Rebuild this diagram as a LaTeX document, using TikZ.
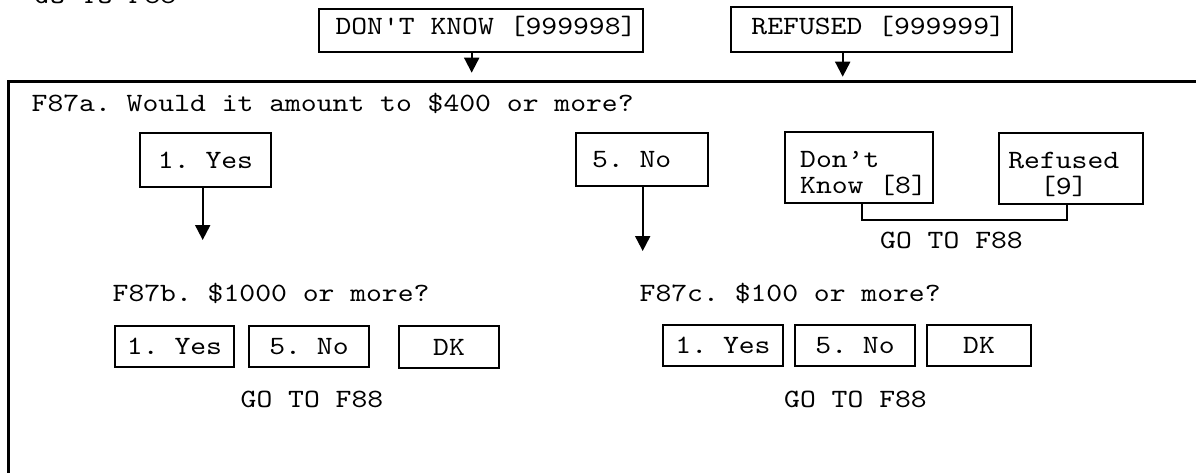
\documentclass[tikz,border=0pt]{standalone}
\usepackage{fontspec}
\setmonofont{lmmono10-regular.otf}[FakeStretch=1.1429]
\usetikzlibrary{arrows.meta}
\newcommand{\mytt}{\ttfamily\fontsize{26.4pt}{25.5pt}\selectfont}
\tikzset{
  txt/.style={inner sep=0pt, font=\mytt, anchor=base west},
  bx/.style={draw, line width=2pt, inner ysep=0pt, inner xsep=0pt, font=\mytt, align=center, text height=17pt, text depth=0pt},
  conn/.style={line width=2pt},
  arr/.style={line width=2pt, -{Triangle[length=15pt,width=15pt]}},
  frameline/.style={line width=2.6pt, line join=miter}
}
\begin{document}
\begin{tikzpicture}[x=1pt,y=-1pt]
\useasboundingbox (0,0) rectangle (1196,473);
% outer frame
\draw[frameline] (8.7,480) -- (8.7,81.7) -- (1210,81.7);
% top
\node[txt] (g0) at (33.5,4) {GO TO F88};
\node[bx, minimum width=324.3pt, minimum height=42.4pt, text height=16pt, text depth=7pt] (dk) at (481.15,30.5) {\hspace*{9.7pt}DON'T KNOW [999998]};
\node[bx, minimum width=281pt, minimum height=45pt, text height=16pt, text depth=5.6pt] (rf) at (871.2,29.8) {\hspace*{14pt}REFUSED [999999]};
\coordinate (t0) at (471.7,72.7);
\coordinate (t1) at (842.7,76.7);
\draw[arr] (dk.south -| t0) -- (t0);
\draw[arr] (rf.south -| t1) -- (t1);
% F87a
\node[txt] (q1) at (31.5,111.7) {F87a. Would it amount to \$400 or more?};
\node[bx, minimum width=131pt, minimum height=54pt, text height=16pt] (yes1) at (205.5,160.3) {1. Yes};
\node[bx, minimum width=132pt, minimum height=53pt, text height=17pt] (no1) at (642,159.5) {5. No\hspace*{20.8pt}};
\node[bx, align=left, minimum width=147.7pt, minimum height=71pt, text height=51pt, text depth=0pt] (dkn) at (858.85,167.8) {\hspace*{9.4pt}Don’t\\\hspace*{9.4pt}Know [8]};
\node[bx, align=left, minimum width=144.3pt, minimum height=70.7pt, text height=51pt, text depth=0pt] (rfn) at (1071.15,168.65) {Refused\hspace*{14.8pt}\\\phantom{xx}[9]};
\coordinate (t2) at (202.7,240);
\coordinate (t3) at (642.7,251);
\draw[arr] (yes1.south -| t2) -- (t2);
\draw[arr] (no1.south -| t3) -- (t3);
\coordinate (bl) at (861.7,220);
\coordinate (br) at (1066.7,220);
\draw[conn] (dkn.south -| bl) -- (bl) -- (br) -- (rfn.south -| br);
\node[txt] (g1) at (880,248.3) {GO TO F88};
% F87b
\node[txt] (q2) at (112.5,301.7) {F87b. \$1000 or more?};
\node[bx, minimum width=119pt, minimum height=41pt] (b1) at (174.5,346) {1. Yes};
\node[bx, minimum width=120pt, minimum height=41pt] (b2) at (309,346) {5. No};
\node[bx, minimum width=100pt, minimum height=42pt] (b3) at (449,346.5) {DK};
\node[txt] (g2) at (240.5,407.3) {GO TO F88};
% F87c
\node[txt] (q3) at (639.5,301.7) {F87c. \$100 or more?};
\node[bx, minimum width=120pt, minimum height=41pt] (c1) at (723,345) {1. Yes};
\node[bx, minimum width=120pt, minimum height=41pt] (c2) at (855,345) {5. No};
\node[bx, minimum width=104pt, minimum height=41pt] (c3) at (979,345) {DK};
\node[txt] (g3) at (784,407) {GO TO F88};
\end{tikzpicture}
\end{document}
